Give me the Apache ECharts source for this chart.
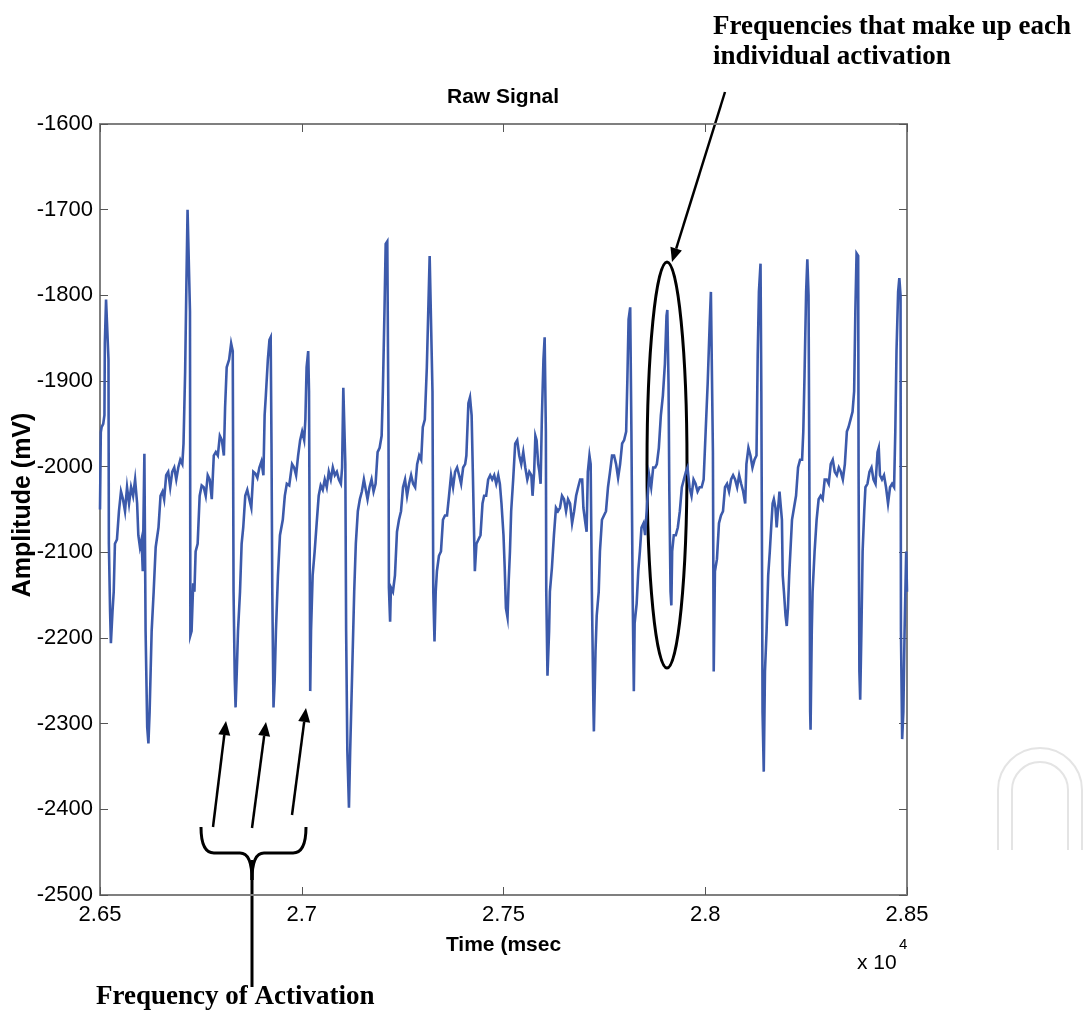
<!DOCTYPE html>
<html><head><meta charset="utf-8">
<script src="https://cdn.jsdelivr.net/npm/echarts@6/dist/echarts.min.js"></script>
<style>html,body{margin:0;padding:0;background:#fff}#c{width:1085px;height:1010px}</style>
</head><body><div id="c"></div>
<script>
// Time in msec (axis shown in units of x 10^4)
const timeMs = [
26500,26502,26504,26508,26511,26512,26515,26519,26521,26522,26525,26527,26531,26534,26537,26542,26547,26552,26557,26562,26567,26572,26577,26582,26587,26592,26595,26599,26603,26606,26610,26613,26617,26620,26623,26628,26633,26638,26645,26650,26655,26659,26664,26669,26674,26679,26684,26689,26694,26699,26704,26707,26711,26714,26717,26721,26723,26724,26727,26731,26734,26737,26742,26747,26752,26757,26762,26767,26772,26777,26782,26787,26792,26797,26802,26807,26810,26814,26820,26825,
26829,26831,26834,26836,26839,26842,26847,26851,26855,26860,26865,26870,26875,26880,26885,26890,26895,26900,26905,26908,26911,26916,26920,26923,26925,26927,26930,26933,26936,26941,26946,26953,26958,26963,26969,26976,26981,26986,26991,26996,27001,27006,27009,27012,27016,27018,27020,27021,27023,27027,27032,27037,27042,27047,27052,27057,27062,27067,27072,27077,27082,27087,27092,27097,27100,27103,27106,27108,27110,27113,27117,27120,27125,27130,27134,27139,27144,27149,27154,
27163,27168,27173,27178,27183,27188,27193,27198,27201,27205,27208,27212,27215,27216,27219,27221,27226,27231,27236,27241,27246,27251,27256,27261,27266,27271,27276,27281,27286,27291,27296,27300,27305,27310,27314,27317,27321,27324,27326,27329,27332,27335,27340,27345,27350,27355,27360,27365,27370,27375,27380,27385,27390,27395,27400,27405,27408,27413,27417,27421,27424,27428,27429,27433,27438,27443,27448,27452,27457,27462,27467,27472,27477,27482,27487,
27491,27495,27500,27503,27506,27510,27513,27516,27519,27524,27529,27534,27539,27544,27549,27554,27559,27564,27569,27572,27576,27579,27582,27586,27589,27592,27595,27599,27602,27605,27606,27609,27613,27615,27620,27625,27630,27635,27640,27645,27650,27655,27660,27665,27670,27675,27680,27685,27690,27695,27698,27703,27706,27709,27713,27716,27719,27723,27724,27728,27731,27736,27739,27744,27749,27754,27759,27764,27769,27774,27779,27784,27789,27794,27799,27804,27807,27810,27814,27817,27820,27823,27825,
27830,27834,27838,27842,27847,27851,27856,27861,27866,27871,27876,27880,27885,27890,27895,27900,27904,27906,27909,27911,27914,27916,27918,27922,27927,27932,27937,27942,27947,27952,27956,27961,27966,27971,27976,27981,27986,27991,27996,28001,28006,28011,28014,28018,28019,28021,28024,28029,28034,28039,28044,28049,28054,28059,28064,28069,28074,28079,28084,28089,28094,28099,28102,28107,28112,28117,28122,28127,28130,28133,28137,28139,28141,28142,28145,28148,28152,28156,28160,
28164,28167,28170,28174,28177,28180,28184,28187,28190,28192,28195,28199,28202,28205,28208,28212,28215,28220,28225,28230,28235,28240,28243,28246,28250,28253,28256,28258,28260,28261,28264,28266,28271,28276,28281,28286,28291,28296,28301,28306,28311,28316,28321,28326,28331,28336,28341,28346,28351,28355,28360,28365,28369,28372,28375,28379,28380,28382,28384,28387,28390,28394,28397,28402,28407,28412,28417,28422,28427,28430,28433,28438,28443,28448,28453,28458,28463,28468,28471,28474,28478,28481,28484,28485,28488,28491,28494,28498,28500
];
// Amplitude in mV
const amplitudeMv = [
-2050,-1960,-1954,-1950,-1940,-1856,-1805,-1804,-1875,-2090,-2169,-2206,-2169,-2146,-2090,-2085,-2052,-2029,-2038,-2052,-2024,-2043,-2024,-2034,-2015,-2043,-2080,-2094,-2085,-2122,-1985,-2192,-2304,-2323,-2286,-2192,-2146,-2094,-2071,-2034,-2029,-2038,-2010,-2006,-2024,-2006,-2001,-2015,-2001,-1992,-1997,-1973,-1889,-1791,-1700,-1698,-1819,-2197,-2192,-2136,-2146,-2099,-2090,-2034,-2022,-2024,-2034,-2010,-2015,-2038,-1987,-1983,-1987,-1964,-1969,-1987,-1931,-1884,-1875,-1856,
-1865,-2146,-2248,-2281,-2239,-2192,-2146,-2090,-2071,-2034,-2027,-2038,-2048,-2006,-2008,-2013,-2001,-1994,-2010,-1940,-1917,-1875,-1852,-1849,-1973,-2146,-2281,-2248,-2192,-2127,-2080,-2062,-2034,-2020,-2022,-1997,-2001,-2010,-1987,-1969,-1959,-1969,-1945,-1884,-1865,-1912,-2132,-2262,-2192,-2127,-2099,-2066,-2034,-2022,-2027,-2015,-2024,-2006,-2015,-2001,-2010,-2006,-2015,-2020,-2001,-1908,-1908,-1997,-2192,-2332,-2398,-2332,-2239,-2146,-2090,-2052,-2038,-2029,-2015,
-2038,-2024,-2015,-2029,-2020,-1983,-1978,-1964,-1912,-1819,-1740,-1737,-1959,-2141,-2181,-2141,-2146,-2127,-2076,-2062,-2052,-2024,-2015,-2034,-2020,-2010,-2020,-2024,-1997,-1987,-1992,-1954,-1945,-1884,-1810,-1754,-1754,-1912,-2146,-2204,-2146,-2122,-2104,-2099,-2062,-2057,-2057,-2034,-2010,-2024,-2006,-2001,-2010,-2020,-2001,-1997,-1987,-1926,-1919,-1940,-2006,-2099,-2122,-2090,-2085,-2080,-2043,-2034,-2034,-2015,-2010,-2015,-2010,-2020,-2010,
-2020,-2043,-2080,-2118,-2165,-2176,-2132,-2099,-2052,-2015,-1973,-1969,-1987,-1997,-1983,-2001,-2015,-2006,-2010,-2034,-2006,-1964,-1969,-1997,-2006,-2020,-1945,-1875,-1849,-1959,-2146,-2244,-2192,-2146,-2118,-2080,-2048,-2052,-2048,-2034,-2038,-2052,-2038,-2043,-2066,-2052,-2034,-2024,-2015,-2015,-2048,-2066,-2076,-2006,-1987,-1997,-2146,-2286,-2309,-2216,-2174,-2146,-2099,-2062,-2057,-2052,-2024,-2006,-1987,-1987,-1997,-2013,-1997,-1973,-1969,-1959,-1898,-1828,-1814,-1959,-2146,-2262,-2183,
-2160,-2122,-2099,-2071,-2066,-2080,-2043,-2010,-2024,-2001,-2001,-1997,-1978,-1940,-1917,-1880,-1824,-1817,-1903,-2029,-2146,-2162,-2099,-2080,-2080,-2071,-2052,-2024,-2015,-2006,-2001,-2024,-2034,-2015,-2020,-2029,-2024,-2024,-2015,-1959,-1903,-1833,-1796,-1796,-1983,-2239,-2122,-2108,-2066,-2057,-2052,-2024,-2020,-2029,-2015,-2010,-2015,-2024,-2010,-2020,-2029,-2043,-1997,-1978,-1987,-2001,-1992,-1987,-1870,-1796,-1763,-1912,-2146,-2286,-2356,-2239,-2192,-2127,-2099,
-2066,-2043,-2038,-2048,-2071,-2052,-2029,-2027,-2062,-2127,-2146,-2174,-2186,-2165,-2127,-2090,-2062,-2048,-2034,-2001,-1992,-1992,-1959,-1894,-1796,-1758,-1800,-2006,-2286,-2307,-2192,-2146,-2099,-2062,-2038,-2034,-2038,-2015,-2015,-2020,-1997,-1992,-2006,-2010,-2001,-2006,-2015,-1997,-1959,-1954,-1945,-1936,-1912,-1819,-1751,-1754,-2006,-2239,-2272,-2192,-2099,-2052,-2024,-2020,-2006,-2001,-2015,-2020,-1983,-1978,-2010,-2015,-2010,-2024,-2043,-2024,-2020,-2024,-1959,-1865,-1796,-1780,-1800,-2192,-2318,-2286,-2192,-2099,-2146
];
const xMin = 26500, xMax = 28500, xStep = 500;
const yMin = -2500, yMax = -1600, yStep = 100;

const chart = echarts.init(document.getElementById('c'), null, {renderer: 'canvas'});
const AX = '#7f7f7f';
const sans = '"Liberation Sans", Arial, sans-serif';
const serif = '"Liberation Serif", "Times New Roman", serif';

function arrow(x1, y1, x2, y2) {
  const L = 14, W = 6;
  const dx = x2 - x1, dy = y2 - y1, d = Math.hypot(dx, dy);
  const ux = dx / d, uy = dy / d;
  const bx = x2 - ux * L, by = y2 - uy * L;
  return [
    {type: 'line', shape: {x1, y1, x2: bx, y2: by}, style: {stroke: '#000', lineWidth: 2.5}},
    {type: 'polygon', shape: {points: [[x2, y2], [bx - uy * W, by + ux * W], [bx + uy * W, by - ux * W]]}, style: {fill: '#000'}}
  ];
}
function txt(x, y, text, font, align) {
  return {type: 'text', x, y, style: {text, font, fill: '#000', textAlign: align, textVerticalAlign: 'middle', align, verticalAlign: 'middle'}};
}
const blk = {stroke: '#000', lineWidth: 3, fill: 'none'};
const wm = {stroke: '#e4e4e4', lineWidth: 2, fill: 'none'};
const yName = txt(0, 0, 'Amplitude (mV)', 'bold 25px ' + sans, 'center');
yName.x = 23; yName.y = 505; yName.rotation = Math.PI / 2;
const graphics = [
  txt(503, 97, 'Raw Signal', 'bold 21px ' + sans, 'center'),
  yName,
  txt(857, 963, 'x 10', '21px ' + sans, 'left'),
  txt(899, 945, '4', '15px ' + sans, 'left'),
  txt(713, 27, 'Frequencies that make up each', 'bold 27px ' + serif, 'left'),
  txt(713, 57, 'individual activation', 'bold 27px ' + serif, 'left'),
  txt(96, 997, 'Frequency of Activation', 'bold 27px ' + serif, 'left'),
  {type: 'ellipse', shape: {cx: 667, cy: 465, rx: 20, ry: 203}, style: blk},
  ...arrow(725, 92, 672, 262),
  ...arrow(213, 827, 226, 721),
  ...arrow(252, 828, 266, 722),
  ...arrow(292, 815, 306, 708),
  {type: 'bezierCurve', shape: {x1: 201, y1: 827, cpx1: 201, cpy1: 853, x2: 214, y2: 853}, style: blk},
  {type: 'line', shape: {x1: 214, y1: 853, x2: 240, y2: 853}, style: blk},
  {type: 'bezierCurve', shape: {x1: 240, y1: 853, cpx1: 252, cpy1: 853, x2: 252, y2: 880}, style: blk},
  {type: 'bezierCurve', shape: {x1: 252, y1: 880, cpx1: 252, cpy1: 853, x2: 264, y2: 853}, style: blk},
  {type: 'line', shape: {x1: 264, y1: 853, x2: 293, y2: 853}, style: blk},
  {type: 'bezierCurve', shape: {x1: 293, y1: 853, cpx1: 306, cpy1: 853, x2: 306, y2: 827}, style: blk},
  {type: 'line', shape: {x1: 252, y1: 860, x2: 252, y2: 987}, style: blk},
  // faint watermark
  {type: 'arc', shape: {cx: 1040, cy: 790, r: 42, startAngle: Math.PI, endAngle: 2 * Math.PI}, style: wm},
  {type: 'line', shape: {x1: 998, y1: 790, x2: 998, y2: 850}, style: wm},
  {type: 'line', shape: {x1: 1082, y1: 790, x2: 1082, y2: 850}, style: wm},
  {type: 'arc', shape: {cx: 1040, cy: 790, r: 28, startAngle: Math.PI, endAngle: 2 * Math.PI}, style: wm},
  {type: 'line', shape: {x1: 1012, y1: 790, x2: 1012, y2: 850}, style: wm},
  {type: 'line', shape: {x1: 1068, y1: 790, x2: 1068, y2: 850}, style: wm}
];

const tickStyle = {show: true, inside: true, length: 8, lineStyle: {color: '#555', width: 1}};
const lineStyleAx = {show: true, onZero: false, lineStyle: {color: AX, width: 2}};
chart.setOption({
  animation: false,
  backgroundColor: '#fff',
  grid: {left: 100, right: 178, top: 124, bottom: 115, containLabel: false, outerBoundsMode: 'none'},
  xAxis: [
    {type: 'value', min: xMin, max: xMax, interval: xStep, position: 'bottom',
     axisLine: lineStyleAx, axisTick: tickStyle, splitLine: {show: false},
     axisLabel: {formatter: v => String(v / 10000), fontFamily: sans, fontSize: 22, color: '#000', margin: 9},
     name: 'Time (msec', nameLocation: 'middle', nameGap: 40,
     nameTextStyle: {fontFamily: sans, fontWeight: 'bold', fontSize: 21, color: '#000'}},
    {type: 'value', min: xMin, max: xMax, interval: xStep, position: 'top',
     axisLine: lineStyleAx, axisTick: tickStyle, splitLine: {show: false}, axisLabel: {show: false}}
  ],
  yAxis: [
    {type: 'value', min: yMin, max: yMax, interval: yStep, position: 'left',
     axisLine: lineStyleAx, axisTick: tickStyle, splitLine: {show: false},
     axisLabel: {formatter: v => String(v), fontFamily: sans, fontSize: 22, color: '#000', margin: 7}},
    {type: 'value', min: yMin, max: yMax, interval: yStep, position: 'right',
     axisLine: lineStyleAx, axisTick: tickStyle, splitLine: {show: false}, axisLabel: {show: false}}
  ],
  series: [{
    type: 'line', xAxisIndex: 0, yAxisIndex: 0, showSymbol: false, symbol: 'none',
    data: timeMs.map((t, i) => [t, amplitudeMv[i]]),
    lineStyle: {color: '#3c5aab', width: 2.6, join: 'miter'},
    itemStyle: {color: '#3c5aab'}
  }],
  graphic: graphics
});
</script>
</body></html>
